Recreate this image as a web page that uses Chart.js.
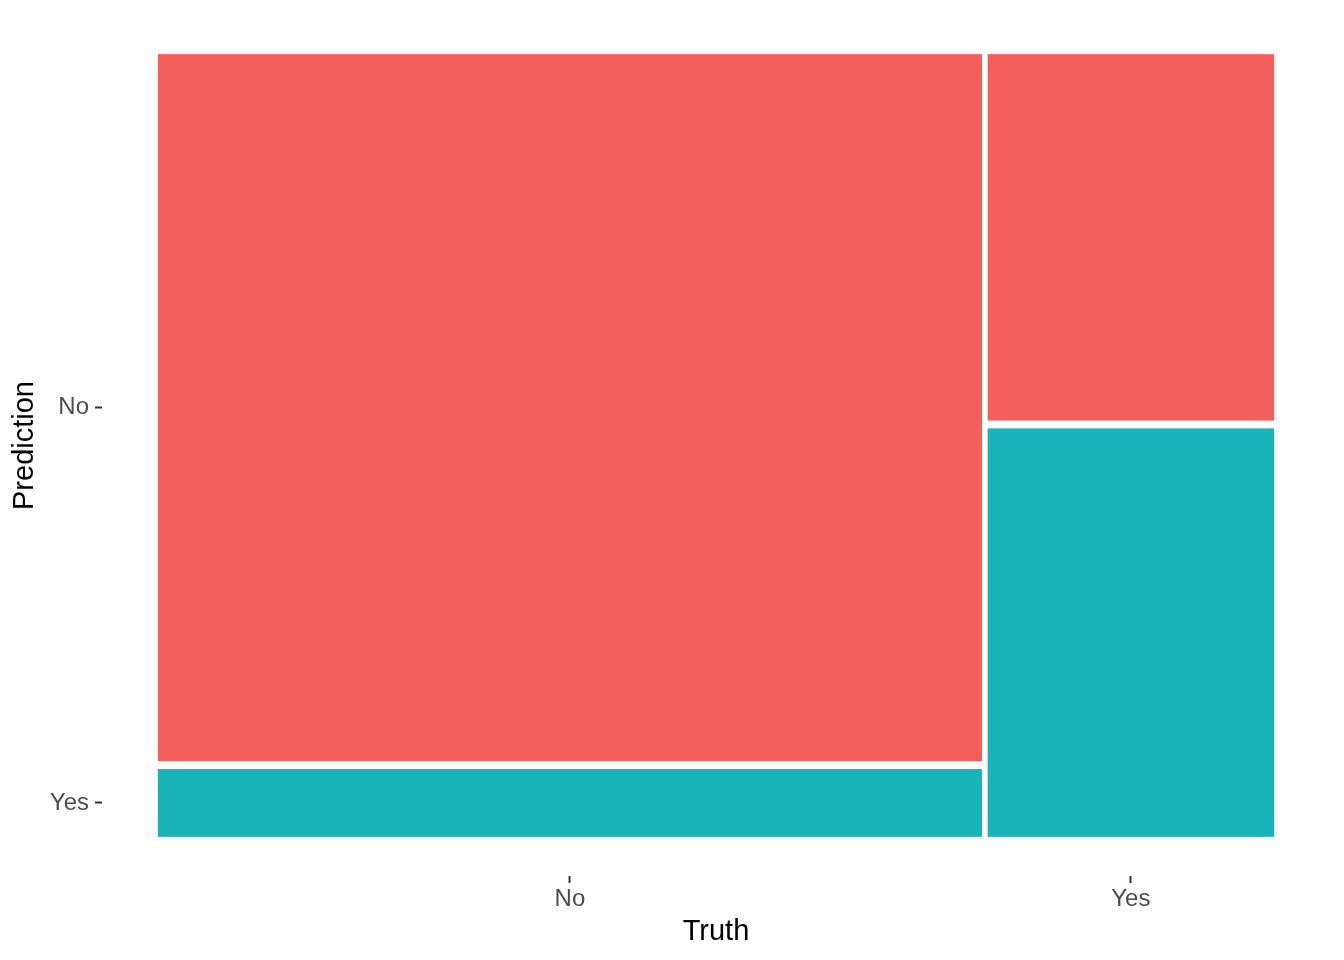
<!DOCTYPE html>
<html>
<head>
<meta charset="UTF-8">
<title>Mosaic plot: Truth vs Prediction</title>
<script src="https://cdn.jsdelivr.net/npm/chart.js"></script>
<style>
    body { margin: 0; background: #ffffff; }
    #mosaicContainer { width: 1344px; height: 960px; }
</style>
</head>
<body>
<div id="mosaicContainer">
    <canvas id="mosaicChart"></canvas>
</div>

<script>
    // Categories (x = Truth, stacked from bottom = Prediction)
    const truthLevels = ['No', 'Yes'];
    const predictionLevels = ['Yes', 'No'];   // bottom to top

    // Counts per truth column, one array per prediction level
    const countsPredYes = [65, 136];
    const countsPredNo = [677, 122];

    const fillColors = { No: '#F3605B', Yes: '#19B4B9' };

    // spacing between tiles, in axis units (0..1)
    const xGap = 0.005;
    const yGap = 0.01;

    const countsByPred = { Yes: countsPredYes, No: countsPredNo };

    // Build tile rectangles (in data units) from the counts
    const colTotals = truthLevels.map((_, i) =>
        predictionLevels.reduce((s, p) => s + countsByPred[p][i], 0));
    const grandTotal = colTotals.reduce((a, b) => a + b, 0);
    const usableX = 1 - xGap * (truthLevels.length - 1);
    const usableY = 1 - yGap * (predictionLevels.length - 1);

    const tiles = [];
    const xCenters = [];
    let x0 = 0;
    truthLevels.forEach((t, i) => {
        const w = usableX * colTotals[i] / grandTotal;
        xCenters.push(x0 + w / 2);
        let y0 = 0;
        predictionLevels.forEach(p => {
            const h = usableY * countsByPred[p][i] / colTotals[i];
            tiles.push({ x0: x0, x1: x0 + w, y0: y0, y1: y0 + h, pred: p, col: i });
            y0 += h + yGap;
        });
        x0 += w + xGap;
    });
    // y ticks sit at the middle of the tiles of the first column
    const yCenters = tiles.filter(r => r.col === 0).map(r => (r.y0 + r.y1) / 2);

    const mosaicPlugin = {
        id: 'mosaicTiles',
        beforeDatasetsDraw(chart) {
            const ctx = chart.ctx;
            const xs = chart.scales.x;
            const ys = chart.scales.y;
            ctx.save();
            tiles.forEach(r => {
                const left = xs.getPixelForValue(r.x0);
                const right = xs.getPixelForValue(r.x1);
                const top = ys.getPixelForValue(r.y1);
                const bottom = ys.getPixelForValue(r.y0);
                ctx.fillStyle = fillColors[r.pred];
                ctx.fillRect(left, top, right - left, bottom - top);
            });
            ctx.restore();
        }
    };

    const tickFont = { family: '"Liberation Sans", Arial, sans-serif', size: 24 };
    const titleFont = { family: '"Liberation Sans", Arial, sans-serif', size: 29, lineHeight: 1.2 };
    const tickGrid = {
        display: true,
        drawOnChartArea: false,
        drawTicks: true,
        tickLength: 7,
        tickWidth: 2,
        tickColor: '#333333'
    };

    const ctx = document.getElementById('mosaicChart').getContext('2d');
    const mosaicChart = new Chart(ctx, {
        type: 'scatter',
        data: { datasets: [{ data: [], pointRadius: 0 }] },
        plugins: [mosaicPlugin],
        options: {
            responsive: true,
            maintainAspectRatio: false,
            animation: false,
            devicePixelRatio: 1,
            layout: { padding: { top: 15, right: 14, left: 0, bottom: 0 } },
            plugins: {
                legend: { display: false },
                tooltip: { enabled: false }
            },
            scales: {
                x: {
                    type: 'linear',
                    min: -0.05,
                    max: 1.05,
                    grid: tickGrid,
                    border: { display: false },
                    afterBuildTicks: scale => {
                        scale.ticks = xCenters.map(v => ({ value: v }));
                    },
                    afterFit: scale => {
                        scale.height = 84;
                        scale.paddingLeft = 0;
                        scale.paddingRight = 0;
                    },
                    ticks: {
                        autoSkip: false,
                        maxRotation: 0,
                        padding: 2,
                        color: '#4D4D4D',
                        font: tickFont,
                        callback: (value, index) => truthLevels[index]
                    },
                    title: {
                        display: true,
                        text: 'Truth',
                        color: '#000000',
                        font: titleFont,
                        padding: { top: 0, bottom: 11 }
                    }
                },
                y: {
                    type: 'linear',
                    min: -0.05,
                    max: 1.05,
                    grid: tickGrid,
                    border: { display: false },
                    afterBuildTicks: scale => {
                        scale.ticks = yCenters.map(v => ({ value: v }));
                    },
                    afterFit: scale => {
                        scale.width = 102;
                        scale.paddingTop = 0;
                        scale.paddingBottom = 0;
                    },
                    ticks: {
                        autoSkip: false,
                        padding: 6,
                        color: '#4D4D4D',
                        font: tickFont,
                        callback: (value, index) => predictionLevels[index]
                    },
                    title: {
                        display: true,
                        text: 'Prediction',
                        color: '#000000',
                        font: titleFont,
                        padding: { top: 8, bottom: 0 }
                    }
                }
            }
        }
    });
</script>
</body>
</html>
